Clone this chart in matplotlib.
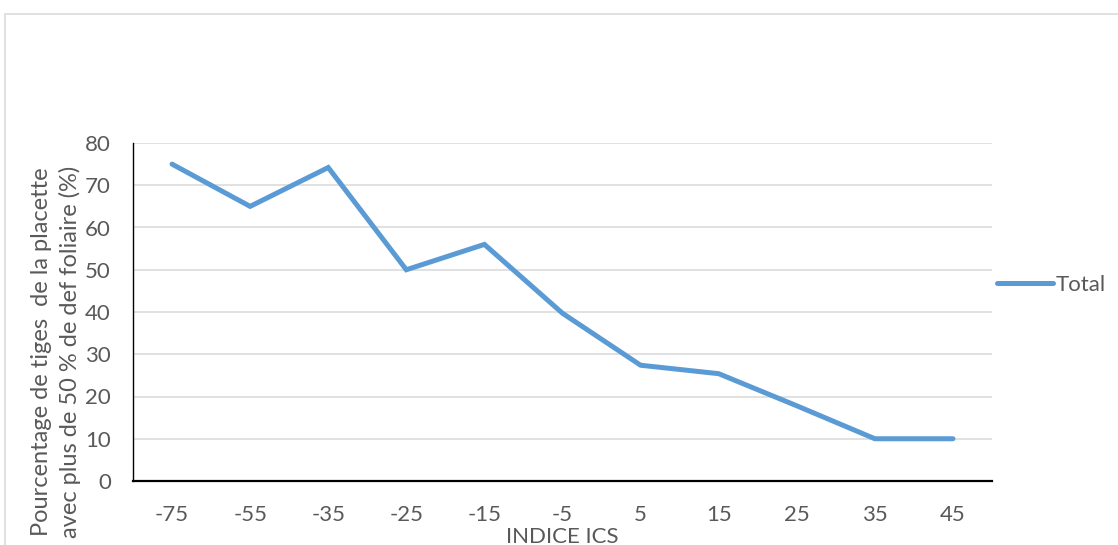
import matplotlib
matplotlib.use("Agg")
import matplotlib.pyplot as plt
from matplotlib.patches import Rectangle

plt.rcParams['font.family'] = ['Lato', 'DejaVu Sans']

categories = ["-75", "-55", "-35", "-25", "-15", "-5", "5", "15", "25", "35", "45"]
total = [75, 65, 74.2, 50, 56, 39.7, 27.4, 25.4, 17.8, 10, 10]
yticks = [0, 10, 20, 30, 40, 50, 60, 70, 80]

W, H = 1118, 545
fig = plt.figure(figsize=(W / 100, H / 100), dpi=100)
ax = fig.add_axes([133 / W, 1 - 481 / H, (992 - 133) / W, (481 - 143) / H])

text_color = '#595959'
fs = 16

x = list(range(len(categories)))
line, = ax.plot(x, total, color='#5B9BD5', lw=3.6, solid_capstyle='round',
                solid_joinstyle='miter', label='Total', zorder=3)

ax.set_xlim(-0.5, len(categories) - 0.5)
ax.set_ylim(0, 80)
ax.set_yticks(yticks)
ax.set_xticks(x)
ax.set_xticklabels(categories)
ax.yaxis.grid(True, color='#D9D9D9', lw=1.1)
ax.set_axisbelow(True)

for s in ['top', 'right']:
    ax.spines[s].set_visible(False)
ax.spines['left'].set_color('black')
ax.spines['left'].set_linewidth(1.0)
ax.spines['bottom'].set_color('black')
ax.spines['bottom'].set_linewidth(1.6)

ax.tick_params(axis='both', length=0, labelsize=fs, labelcolor=text_color)
ax.tick_params(axis='x', pad=17)
ax.tick_params(axis='y', pad=16)

ax.set_xlabel('INDICE ICS', fontsize=fs, color=text_color, labelpad=2)

fig.text(56 / W, 1 - 352 / H,
         'Pourcentage de tiges  de la placette\navec plus de 50 % de def foliaire (%)',
         rotation=90, ha='center', va='center', fontsize=17, color=text_color,
         linespacing=1.35, multialignment='center')

leg = fig.legend(handles=[line], loc='center left',
                 bbox_to_anchor=(997 / W, 1 - 285 / H),
                 bbox_transform=fig.transFigure, frameon=False,
                 fontsize=fs, handlelength=2.5, handletextpad=0.15,
                 borderpad=0, borderaxespad=0)
for t in leg.get_texts():
    t.set_color(text_color)

# outer chart border (partially outside the image)
fig.patches.append(Rectangle((5 / W, -0.2), 1.5, 1 - 14 / H + 0.2,
                             transform=fig.transFigure, fill=False,
                             edgecolor='#D9D9D9', lw=1.1, zorder=0))

fig.savefig('out.png', dpi=100, facecolor='white')
